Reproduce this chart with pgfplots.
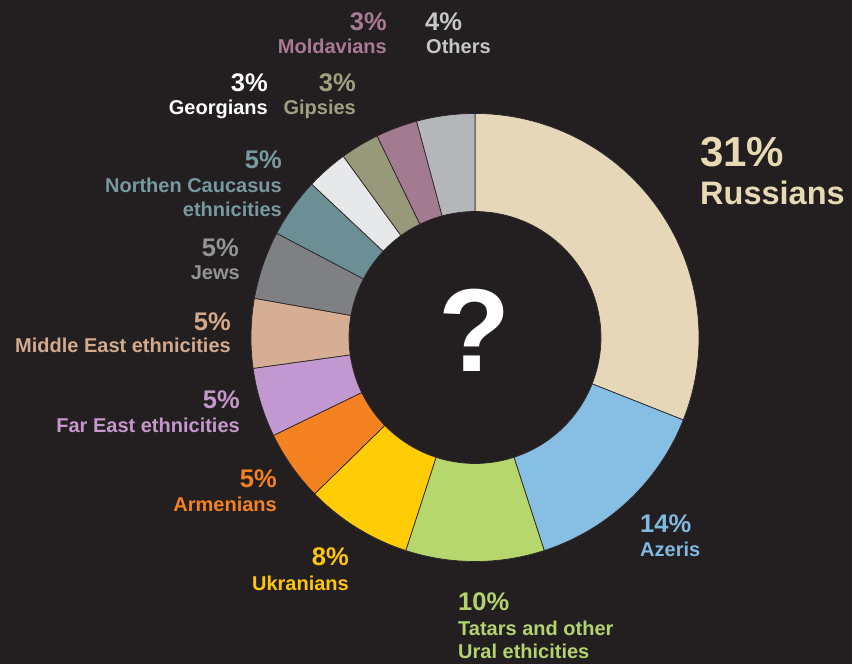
\documentclass[border=0pt]{standalone}
\usepackage{pgfplots}
\pgfplotsset{compat=1.18}
\usepackage{pgfplotstable}
\usepackage{fontspec}
\setmainfont{Liberation Sans}

\definecolor{bg}{HTML}{231F20}
\definecolor{edge}{HTML}{2A2627}
% slice colours
\definecolor{rus}{HTML}{E5D7B8}
\definecolor{aze}{HTML}{86BFE3}
\definecolor{tat}{HTML}{B6D66E}
\definecolor{ukr}{HTML}{FFCC05}
\definecolor{arm}{HTML}{F58220}
\definecolor{fea}{HTML}{C298D0}
\definecolor{mea}{HTML}{D5AE94}
\definecolor{jew}{HTML}{7E8083}
\definecolor{nca}{HTML}{6B8F94}
\definecolor{geo}{HTML}{E7E8E9}
\definecolor{gip}{HTML}{98987A}
\definecolor{mol}{HTML}{A37B91}
\definecolor{oth}{HTML}{B4B6B9}
% label colours
\definecolor{rusT}{HTML}{E8D9B5}
\definecolor{azeT}{HTML}{7FB9E0}
\definecolor{tatT}{HTML}{B3D36E}
\definecolor{ukrT}{HTML}{FFC60B}
\definecolor{armT}{HTML}{F5821F}
\definecolor{feaT}{HTML}{C597CC}
\definecolor{meaT}{HTML}{D3AA8D}
\definecolor{jewT}{HTML}{929497}
\definecolor{ncaT}{HTML}{769A9F}
\definecolor{gipT}{HTML}{A0A080}
\definecolor{molT}{HTML}{A87A95}
\definecolor{othT}{HTML}{C4C6C8}

\tikzset{
    pct/.style={font=\fontsize{25.5}{28}\selectfont\bfseries, inner sep=0pt},
    nam/.style={font=\fontsize{20}{24}\selectfont\bfseries, inner sep=0pt},
}

% share of the ring drawn for each group, clockwise from the top
\pgfplotstableread{
share col
31.0 rus
14.0 aze
10.0 tat
7.7  ukr
5.1  arm
5.0  fea
5.0  mea
4.9  jew
4.3  nca
3.0  geo
2.8  gip
3.0  mol
4.2  oth
}\slices

\def\Rout{224}
\def\Rin{126}

\begin{document}
\begin{tikzpicture}
\begin{axis}[
    hide axis,
    x=1pt, y=1pt,
    xmin=-475, xmax=377,
    ymin=-326.5, ymax=337.5,
    clip=false,
]
\fill[bg] (rel axis cs:0,0) rectangle (rel axis cs:1,1);

\pgfplotstablegetrowsof{\slices}
\pgfmathtruncatemacro\lastrow{\pgfplotsretval-1}
\def\cum{0}
\pgfplotsforeachungrouped \i in {0,...,\lastrow} {
    \pgfplotstablegetelem{\i}{share}\of\slices \let\s\pgfplotsretval
    \pgfplotstablegetelem{\i}{col}\of\slices \let\c\pgfplotsretval
    \pgfmathsetmacro\aone{90-3.6*\cum}
    \pgfmathsetmacro\atwo{90-3.6*(\cum+\s)}
    \pgfmathsetmacro\xo{\Rout*cos(\aone)}
    \pgfmathsetmacro\yo{\Rout*sin(\aone)}
    \pgfmathsetmacro\xi{\Rin*cos(\atwo)}
    \pgfmathsetmacro\yi{\Rin*sin(\atwo)}
    \pgfmathsetmacro\cum{\cum+\s}
    \edef\wedge{\noexpand\filldraw[fill=\c, draw=edge, line width=0.7pt, line join=round]
        (axis cs:\xo,\yo) arc[start angle=\aone, end angle=\atwo, radius=\Rout pt]
        -- (axis cs:\xi,\yi) arc[start angle=\atwo, end angle=\aone, radius=\Rin pt] -- cycle;}
    \wedge
}

\node[anchor=base, text=white, inner sep=0pt, font=\fontsize{118}{120}\selectfont\bfseries] at (axis cs:0,-34.5) {?};

% labels
\node[anchor=base west, text=rusT, inner sep=0pt, font=\fontsize{42}{44}\selectfont\bfseries] at (axis cs:225,170.5) {31\%};
\node[anchor=base west, text=rusT, inner sep=0pt, font=\fontsize{32.5}{36}\selectfont\bfseries] at (axis cs:225,132.5) {Russians};

\node[pct, anchor=base west, text=azeT] at (axis cs:165,-195.5) {14\%};
\node[nam, anchor=base west, text=azeT] at (axis cs:165,-219.5) {Azeris};

\node[pct, anchor=base west, text=tatT] at (axis cs:-17,-273.5) {10\%};
\node[nam, anchor=base west, text=tatT] at (axis cs:-17,-298.5) {Tatars and other};
\node[nam, anchor=base west, text=tatT] at (axis cs:-17,-321.5) {Ural ethicities};

\node[pct, anchor=base east, text=ukrT] at (axis cs:-126,-228.5) {8\%};
\node[nam, anchor=base east, text=ukrT] at (axis cs:-126,-253.5) {Ukranians};

\node[pct, anchor=base east, text=armT] at (axis cs:-198,-150.5) {5\%};
\node[nam, anchor=base east, text=armT] at (axis cs:-198,-174.5) {Armenians};

\node[pct, anchor=base east, text=feaT] at (axis cs:-235,-71.5) {5\%};
\node[nam, anchor=base east, text=feaT] at (axis cs:-235,-95.5) {Far East ethnicities};

\node[pct, anchor=base east, text=meaT] at (axis cs:-244,6.5) {5\%};
\node[nam, anchor=base east, text=meaT] at (axis cs:-244,-15.5) {Middle East ethnicities};

\node[pct, anchor=base east, text=jewT] at (axis cs:-236,80.5) {5\%};
\node[nam, anchor=base east, text=jewT] at (axis cs:-235,57.5) {Jews};

\node[pct, anchor=base east, text=ncaT] at (axis cs:-193,168.5) {5\%};
\node[nam, anchor=base east, text=ncaT] at (axis cs:-193,144.5) {Northen Caucasus};
\node[nam, anchor=base east, text=ncaT] at (axis cs:-193,120.5) {ethnicities};

\node[pct, anchor=base east, text=white] at (axis cs:-207,245.5) {3\%};
\node[nam, anchor=base east, text=white] at (axis cs:-207,222.5) {Georgians};

\node[pct, anchor=base east, text=gipT] at (axis cs:-119,245.5) {3\%};
\node[nam, anchor=base east, text=gipT] at (axis cs:-119,222.5) {Gipsies};

\node[pct, anchor=base east, text=molT] at (axis cs:-88,306.5) {3\%};
\node[nam, anchor=base east, text=molT] at (axis cs:-88,283.5) {Moldavians};

\node[pct, anchor=base west, text=othT] at (axis cs:-50,306.5) {4\%};
\node[nam, anchor=base west, text=othT] at (axis cs:-49,283.5) {Others};
\end{axis}
\end{tikzpicture}
\end{document}
